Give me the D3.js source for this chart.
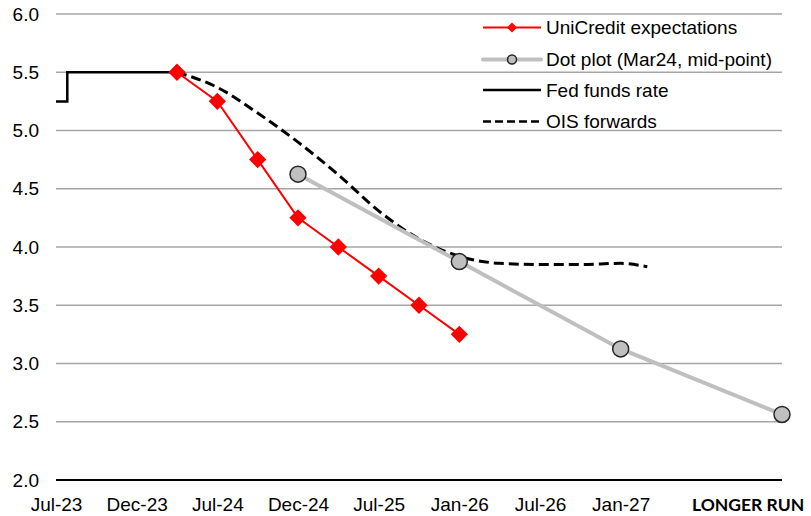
<!DOCTYPE html>
<html>
<head>
<meta charset="utf-8">
<script src="https://cdn.jsdelivr.net/npm/d3@7"></script>
<style>
  html, body { margin: 0; padding: 0; background: #fff; }
  svg { display: block; font-family: "Liberation Sans", Arial, sans-serif; }
</style>
</head>
<body>
<svg id="chart" width="811" height="516"></svg>
<script>
// x values are in label-index units: 0 = Jul-23, 1 = Dec-23, ... 7 = Jan-27, 9 = longer run
const tickLabels = ["Jul-23", "Dec-23", "Jul-24", "Dec-24", "Jul-25", "Jan-26", "Jul-26", "Jan-27"];
const longerRunLabel = "LONGER RUN";
const yTicks = [2.0, 2.5, 3.0, 3.5, 4.0, 4.5, 5.0, 5.5, 6.0];

const uniX = [1.5, 2, 2.5, 3, 3.5, 4, 4.5, 5];
const uniY = [5.5, 5.25, 4.75, 4.25, 4.0, 3.75, 3.5, 3.25];

const dotX = [3, 5, 7, 9];
const dotY = [4.625, 3.875, 3.125, 2.5625];

const fedX = [0, 0.14, 1.5];
const fedY = [5.25, 5.5, 5.5];

const oisX = [1.5, 2, 2.5, 3, 3.5, 4, 4.5, 5, 5.5, 6, 6.5, 7, 7.33];
const oisY = [5.5, 5.37, 5.15, 4.9, 4.62, 4.31, 4.07, 3.92, 3.86, 3.85, 3.85, 3.86, 3.83];

const legendLabels = ["UniCredit expectations", "Dot plot (Mar24, mid-point)", "Fed funds rate", "OIS forwards"];

const margin = { top: 14, right: 29, bottom: 36, left: 56 };
const width = 811 - margin.left - margin.right;
const height = 516 - margin.top - margin.bottom;

const svg = d3.select("#chart");
const g = svg.append("g").attr("transform", `translate(${margin.left},${margin.top})`);

const x = d3.scaleLinear().domain([0, 9]).range([0, width]);
const y = d3.scaleLinear().domain([2, 6]).range([height, 0]);

const zip = (xs, ys) => xs.map((v, i) => [v, ys[i]]);

// gridlines
g.append("g")
    .selectAll("line")
    .data(yTicks.filter(d => d > 2))
    .join("line")
    .attr("x1", 0).attr("x2", width)
    .attr("y1", d => y(d)).attr("y2", d => y(d))
    .attr("stroke", "#a6a6a6")
    .attr("stroke-width", 1.5);

// y axis labels
const yAxis = d3.axisLeft(y).tickValues(yTicks).tickFormat(d3.format(".1f")).tickSize(0).tickPadding(17);
g.append("g")
    .call(yAxis)
    .call(s => s.select(".domain").remove())
    .selectAll("text")
    .attr("fill", "#000")
    .style("font-size", "19px")
    .style("font-family", "Liberation Sans, Arial, sans-serif");

// x axis
const xAxis = d3.axisBottom(x)
    .tickValues(d3.range(tickLabels.length))
    .tickFormat(i => tickLabels[i])
    .tickSize(0)
    .tickPadding(17.5);
const xg = g.append("g")
    .attr("transform", `translate(0,${height})`)
    .call(xAxis);
xg.select(".domain").remove();
xg.selectAll("text")
    .attr("fill", "#000")
    .style("font-size", "19px")
    .style("font-family", "Liberation Sans, Arial, sans-serif");

// the longer-run label sits off the regular tick grid
xg.append("text")
    .attr("x", x(8.58))
    .attr("y", 31)
    .attr("text-anchor", "middle")
    .attr("fill", "#000")
    .style("font-family", "Lato, sans-serif")
    .style("font-weight", "bold")
    .style("font-size", "17.5px")
    .text(longerRunLabel);

g.append("line")
    .attr("x1", 0).attr("x2", width)
    .attr("y1", height).attr("y2", height)
    .attr("stroke", "#000")
    .attr("stroke-width", 2);

const line = d3.line().x(d => x(d[0])).y(d => y(d[1]));

// OIS forwards
g.append("path")
    .datum(zip(oisX, oisY))
    .attr("d", line.curve(d3.curveMonotoneX))
    .attr("fill", "none")
    .attr("stroke", "#000")
    .attr("stroke-width", 3)
    .attr("stroke-dasharray", "10,5");

// Fed funds rate
g.append("path")
    .datum(zip(fedX, fedY))
    .attr("d", d3.line().x(d => x(d[0])).y(d => y(d[1])).curve(d3.curveStepAfter))
    .attr("fill", "none")
    .attr("stroke", "#000")
    .attr("stroke-width", 2.5);

// Dot plot
g.append("path")
    .datum(zip(dotX, dotY))
    .attr("d", d3.line().x(d => x(d[0])).y(d => y(d[1])))
    .attr("fill", "none")
    .attr("stroke", "#bfbfbf")
    .attr("stroke-width", 4);

g.append("g")
    .selectAll("circle")
    .data(zip(dotX, dotY))
    .join("circle")
    .attr("cx", d => x(d[0]))
    .attr("cy", d => y(d[1]))
    .attr("r", 8)
    .attr("fill", "#bfbfbf")
    .attr("stroke", "#262626")
    .attr("stroke-width", 1.5);

// UniCredit expectations
g.append("path")
    .datum(zip(uniX, uniY))
    .attr("d", d3.line().x(d => x(d[0])).y(d => y(d[1])))
    .attr("fill", "none")
    .attr("stroke", "#ff0000")
    .attr("stroke-width", 2);

const diamond = d3.symbol().type(d3.symbolSquare).size(150);
g.append("g")
    .selectAll("path")
    .data(zip(uniX, uniY))
    .join("path")
    .attr("d", diamond)
    .attr("transform", d => `translate(${x(d[0])},${y(d[1])}) rotate(45)`)
    .attr("fill", "#ff0000");

// Legend
const legend = svg.append("g").attr("transform", "translate(483,0)");
const rowY = [27.5, 59.5, 90, 121.5];
const sym = { x1: 0, x2: 58, mid: 29 };

legendLabels.forEach((label, i) => {
    const row = legend.append("g").attr("transform", `translate(0,${rowY[i]})`);
    const ln = row.append("line").attr("x1", sym.x1).attr("x2", sym.x2).attr("y1", 0).attr("y2", 0);
    if (i === 0) {
        ln.attr("stroke", "#ff0000").attr("stroke-width", 2);
        row.append("path")
            .attr("d", d3.symbol().type(d3.symbolSquare).size(50))
            .attr("transform", `translate(${sym.mid},0) rotate(45)`)
            .attr("fill", "#ff0000");
    } else if (i === 1) {
        ln.attr("stroke", "#bfbfbf").attr("stroke-width", 4).attr("stroke-linecap", "round");
        row.append("circle").attr("cx", sym.mid).attr("cy", 0).attr("r", 4.5)
            .attr("fill", "#bfbfbf").attr("stroke", "#262626").attr("stroke-width", 1.5);
    } else if (i === 2) {
        ln.attr("stroke", "#000").attr("stroke-width", 2.5);
    } else {
        ln.attr("stroke", "#000").attr("stroke-width", 2.5).attr("stroke-dasharray", "8,4");
    }
    row.append("text")
        .attr("x", 63)
        .attr("dy", "0.35em")
        .attr("fill", "#000")
        .style("font-size", "19px")
        .text(label);
});
</script>
</body>
</html>
